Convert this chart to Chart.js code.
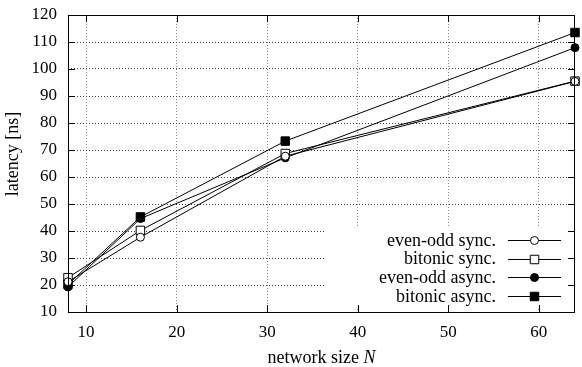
<!DOCTYPE html>
<html>
<head>
<meta charset="utf-8">
<script src="https://cdn.jsdelivr.net/npm/chart.js@4.4.0/dist/chart.umd.min.js"></script>
<style>
  html, body { margin: 0; padding: 0; background: #fff; }
  #wrap { width: 582px; height: 367px; }
</style>
</head>
<body>
<div id="wrap"><canvas id="latencyChart" width="582" height="367"></canvas></div>
<script>
// values
const networkSizes = [8, 16, 32, 64];
const evenOddSync = [21.2, 37.7, 67.7, 95.4];
const bitonicSync = [22.7, 40.2, 68.7, 95.5];
const evenOddAsync = [19.3, 44.6, 67.1, 107.9];
const bitonicAsync = [20.2, 45.2, 73.3, 113.5];
const seriesNames = ['even-odd sync.', 'bitonic sync.', 'even-odd async.', 'bitonic async.'];
const xTicks = [10, 20, 30, 40, 50, 60];
const yTicks = [10, 20, 30, 40, 50, 60, 70, 80, 90, 100, 110, 120];

const FONT = '"Liberation Serif", "DejaVu Serif", serif';
const TICK_LEN = 7;

function toPoints(values) {
    return networkSizes.map((n, i) => ({ x: n, y: values[i] }));
}

function makeSet(label, values, style, filled, radius) {
    return {
        label,
        data: toPoints(values),
        borderColor: '#000',
        borderWidth: 1,
        pointStyle: style,
        pointRadius: radius,
        pointHoverRadius: radius,
        pointBorderWidth: 1,
        pointBorderColor: '#000',
        pointBackgroundColor: filled ? '#000' : '#fff',
        tension: 0,
        clip: false
    };
}

const datasets = [
    makeSet(seriesNames[0], evenOddSync, 'circle', false, 4),
    makeSet(seriesNames[1], bitonicSync, 'rect', false, 6),
    makeSet(seriesNames[2], evenOddAsync, 'circle', true, 4),
    makeSet(seriesNames[3], bitonicAsync, 'rect', true, 6)
];

// legend inside the plot, text on the left and sample on the right
const insideLegend = {
    id: 'insideLegend',
    beforeDatasetsDraw(chart) {
        const { ctx, chartArea } = chart;
        const boxLeft = chartArea.left + 258;
        const boxTop = chartArea.top + 213;
        ctx.save();
        ctx.fillStyle = '#fff';
        ctx.fillRect(boxLeft, boxTop, chartArea.right - 6 - boxLeft, chartArea.bottom - 5 - boxTop);

        const textRight = chartArea.left + 428;
        const lineStart = chartArea.left + 440;
        const lineEnd = chartArea.left + 493;
        ctx.font = '18px ' + FONT;
        ctx.textAlign = 'right';
        ctx.textBaseline = 'middle';
        chart.data.datasets.forEach((ds, i) => {
            const y = boxTop + 12 + i * 18.7;
            ctx.fillStyle = '#000';
            ctx.fillText(ds.label, textRight, y + 1);
            ctx.strokeStyle = '#000';
            ctx.lineWidth = 1;
            ctx.beginPath();
            ctx.moveTo(lineStart, Math.round(y) + 0.5);
            ctx.lineTo(lineEnd, Math.round(y) + 0.5);
            ctx.stroke();
            ctx.fillStyle = ds.pointBackgroundColor;
            Chart.helpers.drawPoint(ctx, {
                pointStyle: ds.pointStyle,
                radius: ds.pointRadius,
                rotation: 0,
                borderWidth: 1
            }, (lineStart + lineEnd) / 2, Math.round(y) + 0.5);
        });
        ctx.restore();
    },
    afterDraw(chart) {
        const { ctx, chartArea, scales } = chart;
        const { left, right, top, bottom } = chartArea;
        ctx.save();
        ctx.strokeStyle = '#000';
        ctx.lineWidth = 1;
        ctx.setLineDash([]);
        ctx.beginPath();
        // inward ticks
        yTicks.forEach(v => {
            const y = Math.round(scales.y.getPixelForValue(v)) + 0.5;
            ctx.moveTo(left, y); ctx.lineTo(left + TICK_LEN, y);
            ctx.moveTo(right, y); ctx.lineTo(right - TICK_LEN, y);
        });
        xTicks.forEach(v => {
            const x = Math.round(scales.x.getPixelForValue(v)) + 0.5;
            ctx.moveTo(x, bottom); ctx.lineTo(x, bottom - TICK_LEN);
            ctx.moveTo(x, top); ctx.lineTo(x, top + TICK_LEN);
        });
        ctx.stroke();
        ctx.strokeRect(Math.round(left) + 0.5, Math.round(top) + 0.5,
            Math.round(right - left) - 1, Math.round(bottom - top));

        // x axis title with italic N
        const part1 = 'network size ';
        const part2 = 'N';
        ctx.fillStyle = '#000';
        ctx.textBaseline = 'middle';
        ctx.textAlign = 'left';
        ctx.font = '18px ' + FONT;
        const w1 = ctx.measureText(part1).width;
        ctx.font = 'italic 18px ' + FONT;
        const w2 = ctx.measureText(part2).width;
        const startX = (left + right) / 2 - (w1 + w2) / 2;
        ctx.font = '18px ' + FONT;
        ctx.fillText(part1, startX, 358);
        ctx.font = 'italic 18px ' + FONT;
        ctx.fillText(part2, startX + w1, 358);

        // y axis title
        ctx.translate(13, 154);
        ctx.rotate(-Math.PI / 2);
        ctx.textAlign = 'center';
        ctx.font = '18px ' + FONT;
        ctx.fillText('latency [ns]', 0, 0);
        ctx.restore();
    }
};

const ctx = document.getElementById('latencyChart').getContext('2d');
new Chart(ctx, {
    type: 'line',
    data: { datasets },
    options: {
        responsive: false,
        animation: false,
        layout: { padding: { top: 15, right: 0, left: 0, bottom: 0 } },
        plugins: {
            legend: { display: false },
            tooltip: { enabled: false }
        },
        scales: {
            x: {
                type: 'linear',
                min: 8,
                max: 64,
                afterBuildTicks: scale => { scale.ticks = xTicks.map(v => ({ value: v })); },
                afterFit: scale => {
                    scale.height = 55;
                    scale.paddingLeft = 0;
                    scale.paddingRight = 0;
                },
                grid: { color: '#888', lineWidth: 1, drawTicks: false },
                border: { display: false, dash: [1, 2] },
                ticks: {
                    color: '#000',
                    padding: 10,
                    maxRotation: 0,
                    font: { family: FONT, size: 17 }
                }
            },
            y: {
                min: 10,
                max: 120,
                afterBuildTicks: scale => { scale.ticks = yTicks.map(v => ({ value: v })); },
                afterFit: scale => {
                    scale.width = 68;
                    scale.paddingTop = 0;
                    scale.paddingBottom = 0;
                },
                grid: { color: '#444', lineWidth: 1, drawTicks: false },
                border: { display: false, dash: [1, 2] },
                ticks: {
                    color: '#000',
                    padding: 11,
                    font: { family: FONT, size: 17 }
                }
            }
        }
    },
    plugins: [insideLegend]
});
</script>
</body>
</html>
